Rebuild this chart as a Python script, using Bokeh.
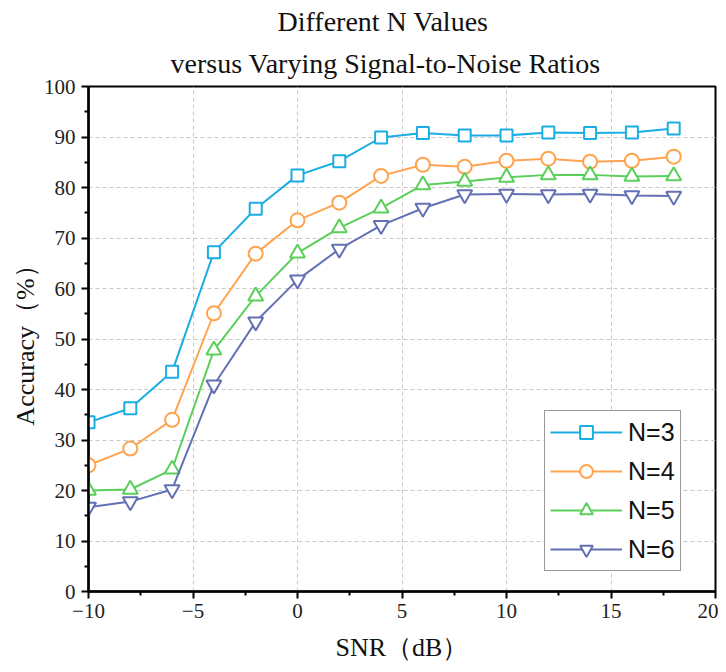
from bokeh.plotting import figure
from bokeh.models import (ColumnDataSource, Legend, LegendItem, Title, FixedTicker,
                          Range1d)
from bokeh.embed import file_html
from bokeh.resources import INLINE

snr = [-10, -8, -6, -4, -2, 0, 2, 4, 6, 8, 10, 12, 14, 16, 18]
acc_n3 = [33.5, 36.3, 43.5, 67.2, 75.8, 82.4, 85.2, 89.9, 90.8, 90.3, 90.3, 90.9, 90.8, 90.9, 91.7]
acc_n4 = [25.0, 28.3, 34.0, 55.1, 66.9, 73.5, 77.0, 82.3, 84.5, 84.1, 85.3, 85.7, 85.1, 85.3, 86.1]
acc_n5 = [20.0, 20.2, 24.2, 47.8, 58.5, 67.0, 72.0, 75.9, 80.5, 81.2, 82.0, 82.5, 82.5, 82.2, 82.3]
acc_n6 = [16.7, 17.8, 20.2, 40.9, 53.4, 61.7, 67.8, 72.5, 75.9, 78.6, 78.7, 78.6, 78.7, 78.4, 78.3]
series_labels = ["N=3", "N=4", "N=5", "N=6"]
colors = ["#1AADE3", "#FFA34F", "#5ACF5A", "#6470B4"]
markers = ["square", "circle", "triangle", "inverted_triangle"]
marker_sizes = [12, 14, 15, 15]

x_ticks = [-10, -5, 0, 5, 10, 15, 20]
y_ticks = [0, 10, 20, 30, 40, 50, 60, 70, 80, 90, 100]

p = figure(width=718, height=672, output_backend="svg", toolbar_location=None,
           x_range=Range1d(-10, 20), y_range=Range1d(0, 100),
           min_border_left=88, min_border_right=3, min_border_top=86, min_border_bottom=81)

serif = "Liberation Serif"

t2 = Title(text="versus Varying Signal-to-Noise Ratios", align="left",
           text_font=serif, text_font_size="28px", text_font_style="normal",
           text_color="#111111", offset=82, standoff=15)
t1 = Title(text="Different N Values", align="left",
           text_font=serif, text_font_size="28px", text_font_style="normal",
           text_color="#111111", offset=189, standoff=3)
p.add_layout(t2, "above")
p.add_layout(t1, "above")

p.outline_line_color = "black"
p.outline_line_width = 2
p.outline_line_alpha = 1

for ax in (p.xaxis[0], p.yaxis[0]):
    ax.axis_line_width = 2.5
    ax.axis_line_color = "black"
    ax.major_tick_line_width = 2
    ax.minor_tick_line_width = 2
    ax.major_tick_out = 7
    ax.major_tick_in = 0
    ax.minor_tick_out = 4
    ax.minor_tick_in = 0
    ax.major_label_text_font = serif
    ax.major_label_text_font_size = "21px"
    ax.major_label_text_color = "#222222"
    ax.axis_label_text_font = serif
    ax.axis_label_text_font_size = "26px"
    ax.axis_label_text_font_style = "normal"
    ax.axis_label_text_color = "#111111"

p.xaxis[0].ticker = FixedTicker(ticks=x_ticks, minor_ticks=[-7.5, -2.5, 2.5, 7.5, 12.5, 17.5])
p.yaxis[0].ticker = FixedTicker(ticks=y_ticks, minor_ticks=[5, 15, 25, 35, 45, 55, 65, 75, 85, 95])
p.xaxis[0].major_label_overrides = {t: (str(t).replace("-", "\u2212")) for t in x_ticks}
p.xaxis[0].axis_label = "SNR\uff08dB\uff09"
p.yaxis[0].axis_label = "Accuracy\uff08%\uff09"
p.xaxis[0].major_label_standoff = 5
p.xaxis[0].axis_label_standoff = 12
p.yaxis[0].major_label_standoff = 6
p.yaxis[0].axis_label_standoff = 1

p.xgrid.grid_line_dash = "4 3"
p.ygrid.grid_line_dash = "4 3"
p.xgrid.grid_line_color = "#c8c8c8"
p.ygrid.grid_line_color = "#c8c8c8"
p.xgrid.grid_line_width = 1
p.ygrid.grid_line_width = 1
p.xgrid.ticker = FixedTicker(ticks=x_ticks)
p.ygrid.ticker = FixedTicker(ticks=y_ticks)

items = []
for vals, lab, col, mk, ms in zip([acc_n3, acc_n4, acc_n5, acc_n6], series_labels, colors,
                                  markers, marker_sizes):
    src = ColumnDataSource(dict(x=snr, y=vals))
    ln = p.line("x", "y", source=src, line_color=col, line_width=2)
    sc = p.scatter("x", "y", source=src, marker=mk, size=ms, line_color=col,
                   line_width=2, fill_color="white")
    items.append(LegendItem(label=lab, renderers=[ln, sc]))

legend = Legend(items=items, location=(456, 20), orientation="vertical",
                label_text_font="Liberation Sans", label_text_font_size="25px",
                label_text_color="#111111",
                glyph_width=72, glyph_height=32, spacing=7, label_standoff=6,
                padding=5, margin=0,
                border_line_color="#333333", border_line_width=1.5,
                background_fill_color="white", background_fill_alpha=1)
p.add_layout(legend, "center")

open("out.html", "w").write(file_html(p, INLINE))
